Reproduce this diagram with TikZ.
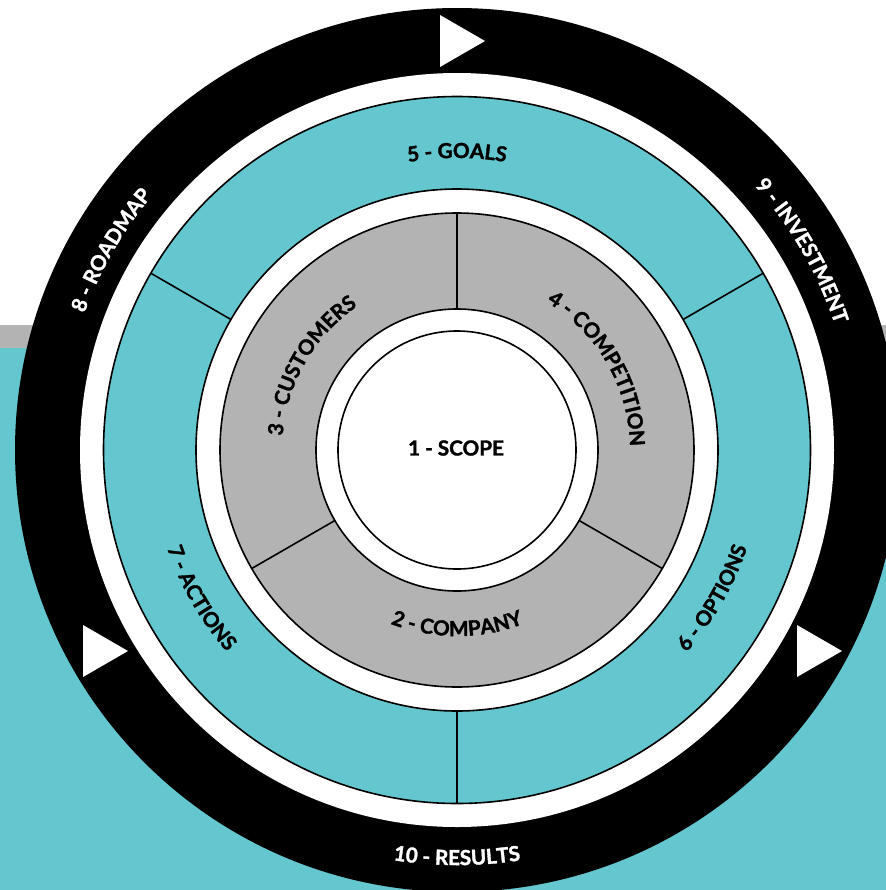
\documentclass[tikz,border=0pt]{standalone}
\usepackage{fontspec}
\setmainfont{Lato}[BoldFeatures={FakeBold=1.6}]
\usetikzlibrary{decorations.text}
\definecolor{ringteal}{RGB}{100,199,207}
\definecolor{ringgray}{RGB}{179,179,179}
\newcommand{\ringfont}{\fontsize{15.5}{18}\selectfont\bfseries}

\begin{document}
\begin{tikzpicture}[x=0.75pt,y=0.75pt,yscale=-1,xscale=1,
    ringline/.style={draw=black, line width=1.2pt},
    divider/.style={line width=1.2pt},
    arclabel/.style={decorate, decoration={text along path, text align=center, text={#1}}}]
    \useasboundingbox (0,0) rectangle (886,890);
    \clip (0,0) rectangle (886,890);

    % Background bands
    \fill[white] (0,0) rectangle (886,325);
    \fill[ringgray] (0,325) rectangle (886,348);
    \fill[ringteal] (0,348) rectangle (886,890);

    \begin{scope}[shift={(457,450)},yscale=-1]
    % Rings
    \fill[black] (0,0) circle (442);
    \fill[white] (0,0) circle (377);
    \filldraw[fill=ringteal, ringline] (0,0) circle (353.5);
    \filldraw[fill=white, ringline] (0,0) circle (261);
    \filldraw[fill=ringgray, ringline] (0,0) circle (237);
    \filldraw[fill=white, ringline] (0,0) circle (141);
    \draw[ringline] (0,0) circle (119);

    % Dividers
    \foreach \a in {30,150,270} \draw[divider] (\a:261) -- (\a:353.5);
    \foreach \a in {90,210,330} \draw[divider] (\a:141) -- (\a:237);

    % Text Node
    \node[font=\ringfont, inner sep=0.75pt] (scopelabel) at (-1,2) {1 - SCOPE};

    % Gray ring labels
    \path[arclabel={|\ringfont|3 - CUSTOMERS}] (210:175) arc[start angle=210, end angle=90, radius=175];
    \path[arclabel={|\ringfont|4 - COMPETITION}] (90:173) arc[start angle=90, end angle=-30, radius=173];
    \path[arclabel={|\ringfont|2 - COMPANY}] (210:186) arc[start angle=210, end angle=330, radius=186];

    % Teal ring labels
    \path[arclabel={|\ringfont|5 - GOALS}] (150:292) arc[start angle=150, end angle=30, radius=292];
    \path[arclabel={|\ringfont|6 - OPTIONS}] (-90:306) arc[start angle=-90, end angle=30, radius=306];
    \path[arclabel={|\ringfont|7 - ACTIONS}] (150:306) arc[start angle=150, end angle=270, radius=306];

    % Black ring labels
    \path[arclabel={|\ringfont\color{white}|8 - ROADMAP}] (210:397) arc[start angle=210, end angle=90, radius=397];
    \path[arclabel={|\ringfont\color{white}|9 - INVESTMENT}] (90:398) arc[start angle=90, end angle=-30, radius=398];
    \path[arclabel={|\ringfont\color{white}|10 - RESULTS}] (210:415) arc[start angle=210, end angle=330, radius=415];
    \end{scope}

    % Arrow heads
    \foreach \x/\y in {440/41, 83/651, 797/651}
        \fill[white] (\x,\y-26) -- ++(45,26) -- ++(-45,26) -- cycle;
\end{tikzpicture}
\end{document}
